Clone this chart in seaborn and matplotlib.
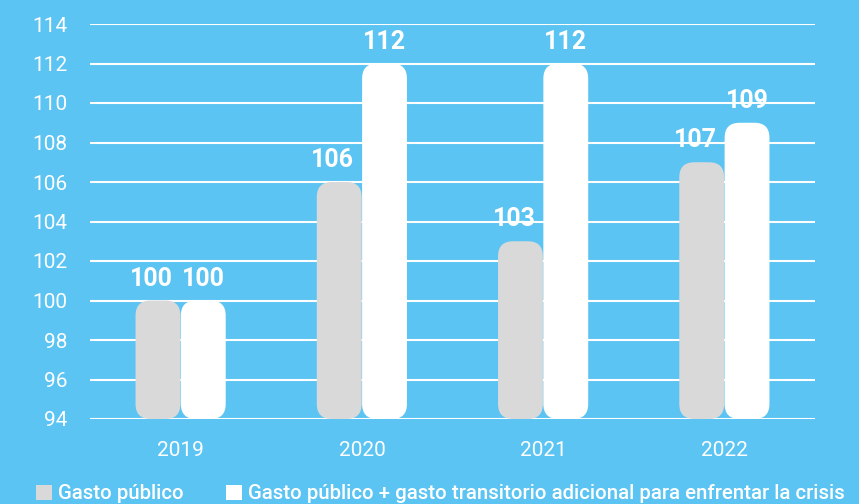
import pandas as pd
import matplotlib
matplotlib.use("Agg")
import matplotlib.pyplot as plt
import seaborn as sns
from matplotlib.patches import FancyBboxPatch, Patch

years = ["2019", "2020", "2021", "2022"]
gasto = [100, 106, 103, 107]
gasto_total = [100, 112, 112, 109]
series = ["Gasto público",
          "Gasto público + gasto transitorio adicional para enfrentar la crisis"]
colors = ["#D9D9D9", "#FFFFFF"]
bg = "#5BC4F2"

df = pd.DataFrame({
    "year": years * 2,
    "value": gasto + gasto_total,
    "serie": [series[0]] * 4 + [series[1]] * 4,
})

sns.set_style("white")
plt.rcParams["font.family"] = ["Roboto", "DejaVu Sans"]

fig = plt.figure(figsize=(8.59, 5.04), dpi=100, facecolor=bg)
ax = fig.add_axes([90 / 859, 1 - 419 / 504, 725 / 859, 395 / 504])
ax.set_facecolor(bg)

sns.barplot(data=df, x="year", y="value", hue="serie", palette=colors,
            width=0.5, gap=0.01, ax=ax, legend=False, zorder=3)

ax.set_ylim(94, 114)
ax.set_xlim(-0.5, 3.5)
ax.set_yticks(range(94, 115, 2))

# rounded bars
r = 0.083
asp = 9.2
bars = list(ax.patches)
for p in bars:
    x, y, w, h = p.get_x(), p.get_y(), p.get_width(), p.get_height()
    if h == 0:
        continue
    fc = p.get_facecolor()
    gray = fc[0] < 0.95
    p.remove()
    fb = FancyBboxPatch((x, 94), w, y + h - 94,
                        boxstyle=f"round,pad=0,rounding_size={r}",
                        mutation_aspect=asp, facecolor=fc, edgecolor="none",
                        zorder=3)
    ax.add_patch(fb)
    dx = -0.035 if gray else 0
    ax.text(x + w / 2 + dx, y + h + 0.75, f"{int(y + h)}", ha="center", va="baseline",
            color="white", fontsize=18, fontweight="bold", zorder=4)

ax.grid(axis="y", color="white", linewidth=1.5, zorder=0)
ax.grid(axis="x", visible=False)
for s in ax.spines.values():
    s.set_visible(False)
ax.tick_params(axis="both", length=0, colors="white", labelsize=15, pad=16)
ax.set_xlabel("")
ax.set_ylabel("")

handles = [Patch(facecolor=c, edgecolor="none") for c in colors]
leg = fig.legend(handles, series, loc="lower left", bbox_to_anchor=(18 / 859, -0.035),
                 ncol=2, frameon=False, fontsize=14.7, labelcolor="white",
                 handlelength=0.75, handleheight=0.75, handletextpad=0.3,
                 columnspacing=2.1)
for t in leg.get_texts():
    t.set_fontweight("medium")

fig.savefig("out.png", dpi=100, facecolor=bg)
